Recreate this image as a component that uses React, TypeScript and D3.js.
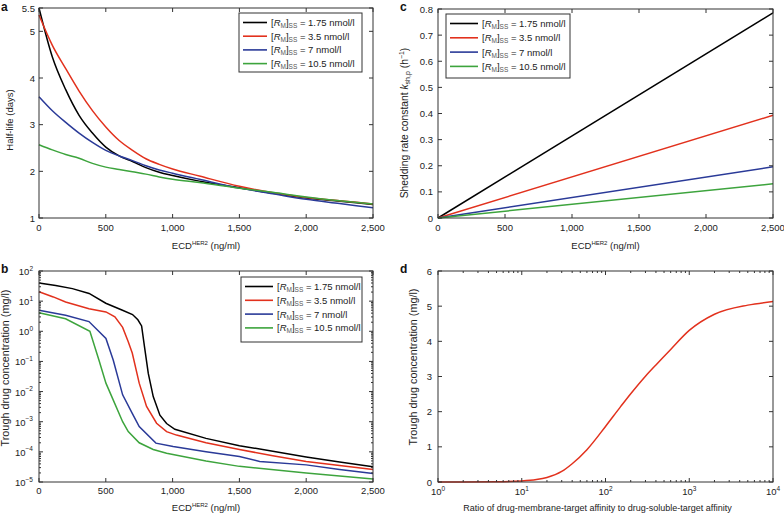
import React from 'react';
import * as d3 from 'd3';

const FONT = "'Liberation Sans', Arial, Helvetica, sans-serif";

// ---------- shared series info ----------
const seriesLabels = ['1.75', '3.5', '7', '10.5'];
const seriesColors = ['#000000', '#e2311d', '#2a3a98', '#3da43d'];

// ---------- panel a: half-life vs ECD ----------
const ecdA = [0, 100, 200, 300, 400, 500, 600, 700, 800, 900, 1000, 1200, 1500, 1750, 2000, 2250, 2500];
const halfLife175 = [5.5, 4.45, 3.75, 3.2, 2.82, 2.52, 2.33, 2.21, 2.08, 1.98, 1.91, 1.79, 1.65, 1.53, 1.43, 1.36, 1.29];
const halfLife35 = [5.35, 4.7, 4.2, 3.72, 3.3, 2.95, 2.66, 2.45, 2.27, 2.15, 2.05, 1.9, 1.68, 1.54, 1.44, 1.37, 1.3];
const halfLife7 = [3.6, 3.3, 3.05, 2.82, 2.62, 2.45, 2.33, 2.23, 2.12, 2.03, 1.96, 1.83, 1.64, 1.52, 1.4, 1.31, 1.22];
const halfLife105 = [2.57, 2.46, 2.36, 2.28, 2.17, 2.09, 2.04, 1.99, 1.94, 1.88, 1.83, 1.76, 1.64, 1.55, 1.45, 1.37, 1.3];
const xTicksEcd = [0, 500, 1000, 1500, 2000, 2500];
const yTicksA = [1, 2, 3, 4, 5, 5.5];

// ---------- panel b: trough concentration vs ECD (log) ----------
const ecdB175 = [0, 125, 250, 375, 500, 625, 700, 740, 768, 790, 818, 855, 905, 955, 1017, 1250, 1500, 1750, 2000, 2250, 2500];
const trough175 = [40, 33, 26, 18, 8.5, 5.0, 3.6, 2.4, 1.5, 0.3, 0.04, 6.8e-3, 1.65e-3, 8.7e-4, 5.6e-4, 2.8e-4, 1.6e-4, 1.05e-4, 6.8e-5, 4.6e-5, 3.2e-5];
const ecdB35 = [0, 107, 199, 374, 501, 568, 626, 668, 698, 750, 805, 880, 955, 1029, 1250, 1500, 1750, 2000, 2250, 2500];
const trough35 = [20.4, 13.8, 9.4, 5.6, 4.4, 3.0, 1.35, 0.45, 0.19, 0.019, 3.2e-3, 8.9e-4, 4.7e-4, 3.6e-4, 2e-4, 1.2e-4, 7.4e-5, 4.8e-5, 3.5e-5, 2.6e-5];
const ecdB7 = [0, 199, 374, 501, 556, 626, 698, 750, 875, 1004, 1250, 1500, 1652, 2000, 2250, 2500];
const trough7 = [5.0, 3.4, 2.1, 0.58, 0.11, 7.8e-3, 1.9e-3, 6.9e-4, 1.95e-4, 1.5e-4, 1e-4, 7e-5, 4.8e-5, 3.7e-5, 2.6e-5, 1.9e-5];
const ecdB105 = [0, 199, 381, 449, 501, 556, 626, 668, 750, 855, 955, 1250, 1500, 2000, 2500];
const trough105 = [4.1, 2.6, 1.0, 0.11, 0.019, 5.2e-3, 1e-3, 4.7e-4, 2e-4, 1.2e-4, 9e-5, 5e-5, 3.3e-5, 2e-5, 1.26e-5];
const yExpB = [-5, -4, -3, -2, -1, 0, 1, 2];

// ---------- panel c: shedding rate constant vs ECD ----------
const ecdC = [0, 2500];
const ksh175 = [0, 0.785];
const ksh35 = [0, 0.393];
const ksh7 = [0, 0.196];
const ksh105 = [0, 0.131];
const yTicksC = [0, 0.1, 0.2, 0.3, 0.4, 0.5, 0.6, 0.7, 0.8];

// ---------- panel d: trough vs affinity ratio ----------
const ratioD = [1, 2, 5, 10, 15, 20, 30, 40, 60, 100, 150, 200, 300, 400, 600, 1000, 2000, 5000, 10000];
const troughD = [0, 0.002, 0.008, 0.03, 0.07, 0.13, 0.3, 0.52, 0.92, 1.58, 2.13, 2.51, 3.01, 3.33, 3.77, 4.31, 4.77, 5.03, 5.13];
const xExpD = [0, 1, 2, 3, 4];
const yTicksD = [0, 1, 2, 3, 4, 5, 6];

const AXIS = '#333';
const TICK = 4;
const FS = 9.5;

type Box = { l: number; r: number; t: number; b: number };

const fmtComma = d3.format(',');

function Frame({ box }: { box: Box }) {
  return <rect x={box.l} y={box.t} width={box.r - box.l} height={box.b - box.t} fill="none" stroke={AXIS} strokeWidth={1} />;
}

function XTicks({ box, pos, len = TICK }: { box: Box; pos: number[]; len?: number }) {
  return (
    <g stroke={AXIS} strokeWidth={1}>
      {pos.map((x, i) => (
        <g key={i}>
          <line x1={x} x2={x} y1={box.b} y2={box.b - len} />
          <line x1={x} x2={x} y1={box.t} y2={box.t + len} />
        </g>
      ))}
    </g>
  );
}

function YTicks({ box, pos, len = TICK }: { box: Box; pos: number[]; len?: number }) {
  return (
    <g stroke={AXIS} strokeWidth={1}>
      {pos.map((y, i) => (
        <g key={i}>
          <line x1={box.l} x2={box.l + len} y1={y} y2={y} />
          <line x1={box.r} x2={box.r - len} y1={y} y2={y} />
        </g>
      ))}
    </g>
  );
}

function Pow10({ x, y, e, anchor }: { x: number; y: number; e: number; anchor: string }) {
  const s = e < 0 ? '\u2212' + Math.abs(e) : String(e);
  return (
    <text x={x} y={y} textAnchor={anchor} fontSize={FS} fill="#222">
      10<tspan fontSize={6.5} dy={-4.5}>{s}</tspan>
    </text>
  );
}

function Legend({ x, y, w, h, rowGap, lineLen }: { x: number; y: number; w: number; h: number; rowGap: number; lineLen: number }) {
  return (
    <g>
      <rect x={x} y={y} width={w} height={h} fill="#fff" stroke={AXIS} strokeWidth={1} />
      {seriesLabels.map((lab, i) => {
        const cy = y + 9.5 + i * rowGap;
        return (
          <g key={i}>
            <line x1={x + 4} x2={x + 4 + lineLen} y1={cy} y2={cy} stroke={seriesColors[i]} strokeWidth={1.6} />
            <text x={x + 8 + lineLen} y={cy + 3.5} fontSize={FS} fill="#222">
              [<tspan fontStyle="italic">R</tspan>
              <tspan fontSize={6.5} dy={2} fill="#555">M</tspan>
              <tspan dy={-2}>]</tspan>
              <tspan fontSize={6.5} dy={2} fill="#555">SS</tspan>
              <tspan dy={-2}>{' = ' + lab + ' nmol/l'}</tspan>
            </text>
          </g>
        );
      })}
    </g>
  );
}

function EcdTitle({ x, y }: { x: number; y: number }) {
  return (
    <text x={x} y={y} textAnchor="middle" fontSize={FS} fill="#222">
      ECD<tspan fontSize={6} dy={-4}>HER2</tspan>
      <tspan dy={4}> (ng/ml)</tspan>
    </text>
  );
}

export default function App() {
  // ---- panel a ----
  const boxA: Box = { l: 39, r: 373, t: 8, b: 218 };
  const xA = d3.scaleLinear().domain([0, 2500]).range([boxA.l, boxA.r]);
  const yA = d3.scaleLinear().domain([1, 5.5]).range([boxA.b, boxA.t]);
  const lineA = (vals: number[]) =>
    d3.line<number>().x((_, i) => xA(ecdA[i])).y((v) => yA(v)).curve(d3.curveMonotoneX)(vals) || '';
  const seriesA = [halfLife175, halfLife35, halfLife7, halfLife105];

  // ---- panel b ----
  const boxB: Box = { l: 39, r: 373, t: 271, b: 482 };
  const xB = d3.scaleLinear().domain([0, 2500]).range([boxB.l, boxB.r]);
  const yB = d3.scaleLog().domain([1e-5, 1e2]).range([boxB.b, boxB.t]);
  const lineB = (xs: number[], vals: number[]) =>
    d3.line<number>().x((_, i) => xB(xs[i])).y((v) => yB(v))(vals) || '';
  const seriesB: [number[], number[]][] = [
    [ecdB175, trough175],
    [ecdB35, trough35],
    [ecdB7, trough7],
    [ecdB105, trough105],
  ];
  const minorB: number[] = [];
  for (let e = -5; e < 2; e++) for (let k = 2; k <= 9; k++) minorB.push(yB(k * Math.pow(10, e)));

  // ---- panel c ----
  const boxC: Box = { l: 438, r: 773, t: 9, b: 218 };
  const xC = d3.scaleLinear().domain([0, 2500]).range([boxC.l, boxC.r]);
  const yC = d3.scaleLinear().domain([0, 0.8]).range([boxC.b, boxC.t]);
  const lineC = (vals: number[]) => d3.line<number>().x((_, i) => xC(ecdC[i])).y((v) => yC(v))(vals) || '';
  const seriesC = [ksh175, ksh35, ksh7, ksh105];

  // ---- panel d ----
  const boxD: Box = { l: 438, r: 773, t: 271, b: 482 };
  const xD = d3.scaleLog().domain([1, 1e4]).range([boxD.l, boxD.r]);
  const yD = d3.scaleLinear().domain([0, 6]).range([boxD.b, boxD.t]);
  const lineD = d3.line<number>().x((_, i) => xD(ratioD[i])).y((v) => yD(v)).curve(d3.curveMonotoneX)(troughD) || '';
  const minorD: number[] = [];
  for (let e = 0; e < 4; e++) for (let k = 2; k <= 9; k++) minorD.push(xD(k * Math.pow(10, e)));

  return (
    <svg width={784} height={514} style={{ position: 'absolute', left: 0, top: 0, background: '#fff' }} fontFamily={FONT}>
      <rect x={0} y={0} width={784} height={514} fill="#fff" />

      {/* panel letters */}
      <text x={1} y={11} fontSize={12} fontWeight="bold" fill="#111">a</text>
      <text x={1} y={273} fontSize={12} fontWeight="bold" fill="#111">b</text>
      <text x={400} y={11} fontSize={12} fontWeight="bold" fill="#111">c</text>
      <text x={400} y={273} fontSize={12} fontWeight="bold" fill="#111">d</text>

      {/* ===== panel a ===== */}
      <g>
        {seriesA.map((s, i) => (
          <path key={i} d={lineA(s)} fill="none" stroke={seriesColors[i]} strokeWidth={1.5} />
        ))}
        <Frame box={boxA} />
        <XTicks box={boxA} pos={xTicksEcd.map(xA)} />
        <YTicks box={boxA} pos={yTicksA.map(yA)} />
        {xTicksEcd.map((v) => (
          <text key={v} x={xA(v)} y={boxA.b + 13} textAnchor="middle" fontSize={FS} fill="#222">{fmtComma(v)}</text>
        ))}
        {yTicksA.map((v) => (
          <text key={v} x={boxA.l - 4} y={yA(v) + 3.5} textAnchor="end" fontSize={FS} fill="#222">{String(v)}</text>
        ))}
        <EcdTitle x={(boxA.l + boxA.r) / 2} y={boxA.b + 31} />
        <text transform={`translate(13,120) rotate(-90)`} textAnchor="middle" fontSize={FS} fill="#222">Half-life (days)</text>
        <Legend x={239} y={13} w={123} h={59} rowGap={13.7} lineLen={24} />
      </g>

      {/* ===== panel b ===== */}
      <g>
        {seriesB.map(([xs, vs], i) => (
          <path key={i} d={lineB(xs, vs)} fill="none" stroke={seriesColors[i]} strokeWidth={1.5} />
        ))}
        <Frame box={boxB} />
        <XTicks box={boxB} pos={xTicksEcd.map(xB)} />
        <YTicks box={boxB} pos={yExpB.map((e) => yB(Math.pow(10, e)))} />
        <YTicks box={boxB} pos={minorB} len={2} />
        {xTicksEcd.map((v) => (
          <text key={v} x={xB(v)} y={boxB.b + 12} textAnchor="middle" fontSize={FS} fill="#222">{fmtComma(v)}</text>
        ))}
        {yExpB.map((e) => (
          <Pow10 key={e} x={boxB.l - 6} y={yB(Math.pow(10, e)) + 4} e={e} anchor="end" />
        ))}
        <EcdTitle x={(boxB.l + boxB.r) / 2} y={boxB.b + 29} />
        <text transform={`translate(9,368) rotate(-90)`} textAnchor="middle" fontSize={10.8} fill="#222">Trough drug concentration (mg/l)</text>
        <Legend x={241} y={277} w={121} h={65} rowGap={13.8} lineLen={28} />
      </g>

      {/* ===== panel c ===== */}
      <g>
        {seriesC.map((s, i) => (
          <path key={i} d={lineC(s)} fill="none" stroke={seriesColors[i]} strokeWidth={1.5} />
        ))}
        <Frame box={boxC} />
        <XTicks box={boxC} pos={xTicksEcd.map(xC)} />
        <YTicks box={boxC} pos={yTicksC.map(yC)} />
        {xTicksEcd.map((v) => (
          <text key={v} x={xC(v)} y={boxC.b + 13} textAnchor="middle" fontSize={FS} fill="#222">{fmtComma(v)}</text>
        ))}
        {yTicksC.map((v) => (
          <text key={v} x={boxC.l - 5} y={yC(v) + 3.5} textAnchor="end" fontSize={FS} fill="#222">{String(v)}</text>
        ))}
        <EcdTitle x={(boxC.l + boxC.r) / 2} y={boxC.b + 31} />
        <text transform={`translate(408,123) rotate(-90)`} textAnchor="middle" fontSize={10.3} fill="#222">
          Shedding rate constant <tspan fontStyle="italic">k</tspan>
          <tspan fontSize={7} dy={2}>sh,p</tspan>
          <tspan dy={-2}> (h</tspan>
          <tspan fontSize={7} dy={-4}>{'\u22121'}</tspan>
          <tspan dy={4}>)</tspan>
        </text>
        <Legend x={446} y={14} w={124} h={64} rowGap={14.3} lineLen={28} />
      </g>

      {/* ===== panel d ===== */}
      <g>
        <path d={lineD} fill="none" stroke={seriesColors[1]} strokeWidth={1.5} />
        <Frame box={boxD} />
        <XTicks box={boxD} pos={xExpD.map((e) => xD(Math.pow(10, e)))} />
        <XTicks box={boxD} pos={minorD} len={2} />
        <YTicks box={boxD} pos={yTicksD.map(yD)} />
        {xExpD.map((e) => (
          <Pow10 key={e} x={xD(Math.pow(10, e))} y={boxD.b + 13} e={e} anchor="middle" />
        ))}
        {yTicksD.map((v) => (
          <text key={v} x={boxD.l - 6} y={yD(v) + 3.5} textAnchor="end" fontSize={FS} fill="#222">{String(v)}</text>
        ))}
        <text x={(boxD.l + boxD.r) / 2 - 8} y={boxD.b + 29} textAnchor="middle" fontSize={9} fill="#222">
          Ratio of drug-membrane-target affinity to drug-soluble-target affinity
        </text>
        <text transform={`translate(417,367) rotate(-90)`} textAnchor="middle" fontSize={10.8} fill="#222">Trough drug concentration (mg/l)</text>
      </g>
    </svg>
  );
}
